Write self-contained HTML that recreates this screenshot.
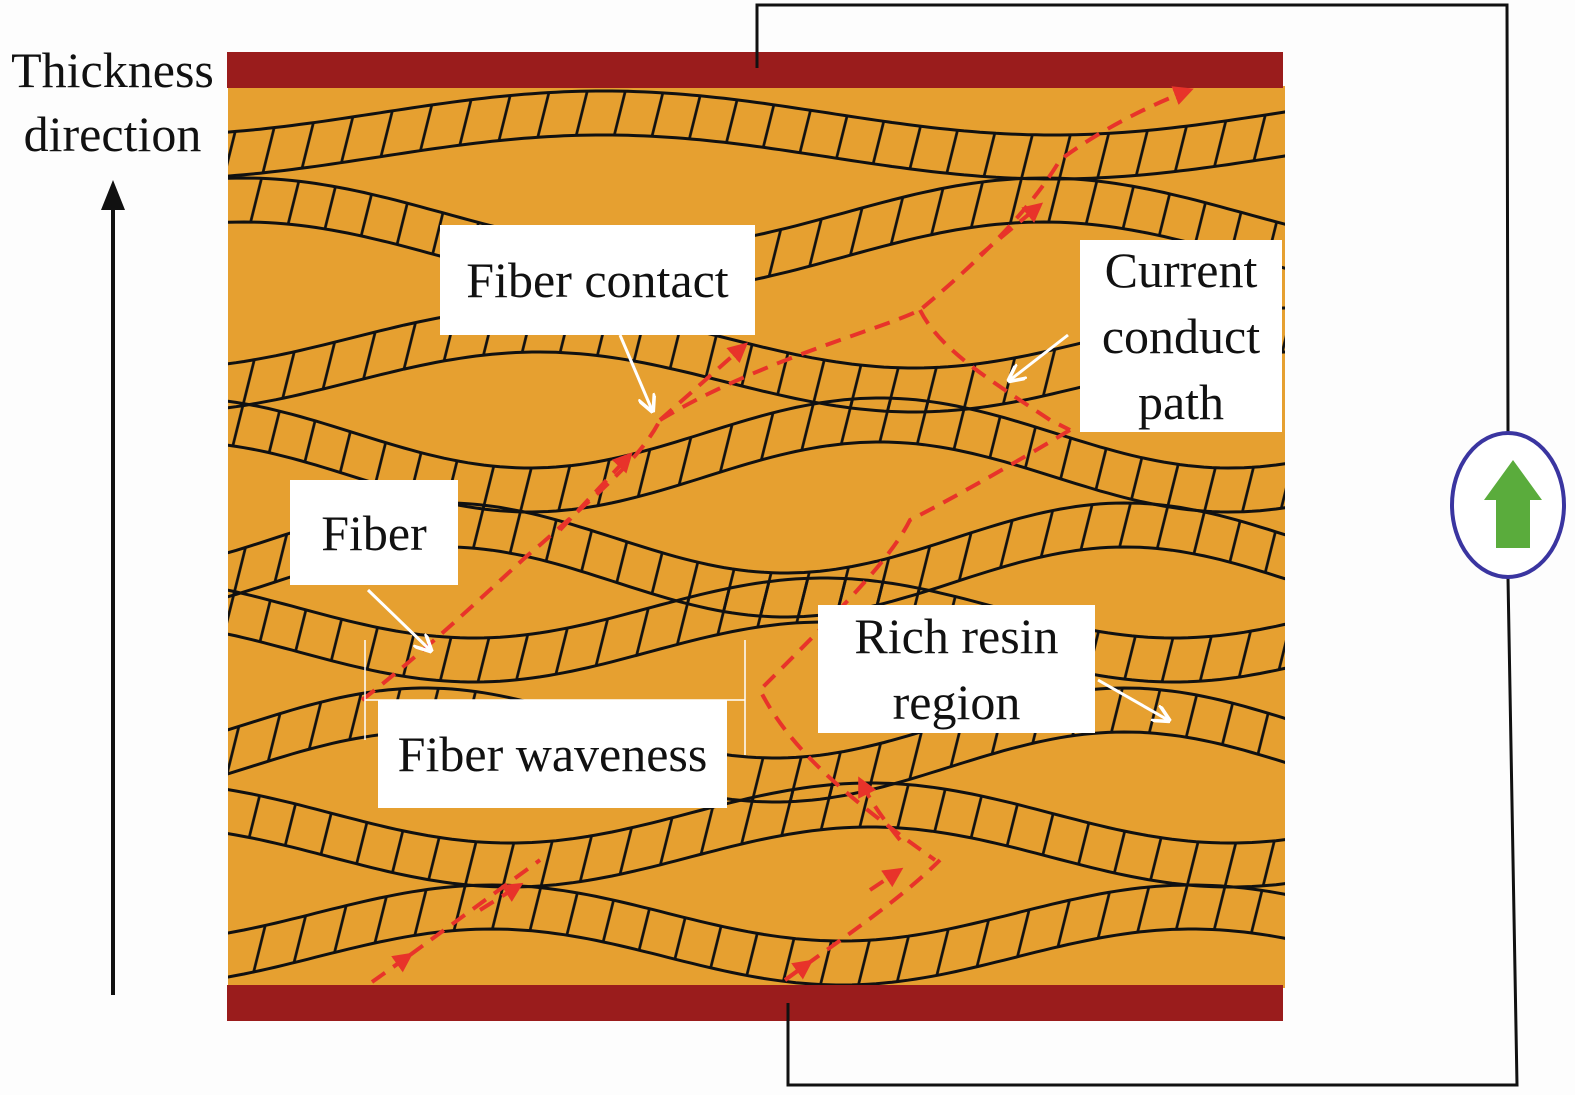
<!DOCTYPE html>
<html><head><meta charset="utf-8"><style>
body{margin:0;background:#fdfdfd;width:1575px;height:1095px;overflow:hidden;font-family:"Liberation Serif",serif}
svg{position:absolute;left:0;top:0}
.lb{position:absolute;background:#fff;font-size:50px;color:#111;text-align:center;line-height:66px;display:flex;align-items:center;justify-content:center}
</style></head><body>
<svg id="s" width="1575" height="1095" viewBox="0 0 1575 1095">
<defs>
<pattern id="h" width="38" height="60" patternUnits="userSpaceOnUse" patternTransform="skewX(-14)">
<rect width="38" height="60" fill="none"/><line x1="2" y1="0" x2="2" y2="60" stroke="#111" stroke-width="2.8"/>
</pattern>
<marker id="ar" markerWidth="5" markerHeight="5" refX="4" refY="2.5" orient="auto"><path d="M0,0 L5,2.5 L0,5 Z" fill="#e8332a"/></marker>
<marker id="wa" markerWidth="6" markerHeight="6" refX="5" refY="3" orient="auto"><path d="M0,0 L6,3 L0,6" fill="none" stroke="#fff" stroke-width="1.2"/></marker>
<clipPath id="c"><rect x="228" y="86" width="1057" height="902"/></clipPath>
</defs>
<rect x="228" y="86" width="1057" height="902" fill="#e6a030"/>
<g id="bands" clip-path="url(#c)"></g>
<rect x="227" y="52" width="1056" height="36" fill="#9a1c1c"/>
<rect x="227" y="985" width="1056" height="36" fill="#9a1c1c"/>
<polyline points="757,68 757,5 1507,5 1508,433" fill="none" stroke="#111" stroke-width="3"/>
<polyline points="1508,578 1517,1085 788,1085 788,1003" fill="none" stroke="#111" stroke-width="3"/>
<ellipse cx="1508" cy="505" rx="56" ry="72" fill="#fff" stroke="#3a35a0" stroke-width="4"/>
<path d="M1496,548 L1496,500 L1484,500 L1513,460 L1542,500 L1530,500 L1530,548 Z" fill="#5aac3c"/>
<line x1="113" y1="995" x2="113" y2="195" stroke="#111" stroke-width="4"/>
<path d="M101,210 L113,180 L125,210 Z" fill="#111"/>
<g fill="none" stroke="#e8332a" stroke-width="4" stroke-dasharray="16,10">
<path d="M372,982 L410,955" marker-end="url(#ar)"/>
<path d="M410,955 L540,860"/>
<path d="M480,910 L520,885" marker-end="url(#ar)"/>
<path d="M362,700 C440,640 520,560 540,545 C590,500 640,460 660,420"/>
<path d="M660,420 L745,345" marker-end="url(#ar)"/>
<path d="M560,530 L630,455" marker-end="url(#ar)"/>
<path d="M660,420 C760,360 880,330 920,310 C980,260 1030,210 1060,160 C1100,130 1150,105 1190,90" marker-end="url(#ar)"/>
<path d="M980,255 L1040,205" marker-end="url(#ar)"/>
<path d="M920,310 C940,350 990,380 1050,420 L1070,430"/>
<path d="M1070,430 C1020,460 950,500 910,520 C890,560 840,610 760,690 C790,750 850,800 935,860" />
<path d="M785,980 C840,940 900,900 940,860"/>
<path d="M785,980 L810,962" marker-end="url(#ar)"/>
<path d="M870,890 L900,870" marker-end="url(#ar)"/>
<path d="M900,840 C880,815 870,800 860,780" marker-end="url(#ar)"/>
</g>
<g stroke="#fff" stroke-width="3" fill="none">
<line x1="620" y1="335" x2="652" y2="410" marker-end="url(#wa)"/>
<line x1="1068" y1="335" x2="1010" y2="380" marker-end="url(#wa)"/>
<line x1="368" y1="590" x2="430" y2="650" marker-end="url(#wa)"/>
<line x1="1098" y1="680" x2="1168" y2="720" marker-end="url(#wa)"/>
<line x1="365" y1="640" x2="365" y2="740" stroke-width="1.5"/>
<line x1="745" y1="640" x2="745" y2="755" stroke-width="1.5"/>
<line x1="365" y1="700" x2="745" y2="700" stroke-width="1.5"/>
</g>
</svg>
<div style="position:absolute;left:0;top:38px;width:225px;font-size:50px;text-align:center;line-height:64px;color:#111">Thickness<br>direction</div>
<div class="lb" style="left:440px;top:225px;width:315px;height:110px">Fiber contact</div>
<div class="lb" style="left:1080px;top:240px;width:202px;height:192px">Current<br>conduct<br>path</div>
<div class="lb" style="left:290px;top:480px;width:168px;height:105px">Fiber</div>
<div class="lb" style="left:818px;top:605px;width:277px;height:128px">Rich resin<br>region</div>
<div class="lb" style="left:378px;top:700px;width:349px;height:108px">Fiber waveness</div>
<script>
var g=document.getElementById('bands'),NS='http://www.w3.org/2000/svg';
var bands=[[135,22,900,0.5],[235,35,800,2.8],[360,30,750,0.2],[455,35,700,3.1],[560,35,680,0.6],[630,30,700,3.6],[745,35,700,0.9],[835,30,720,3.4],[935,28,700,0.3]];
var th=44;
bands.forEach(function(b){
 function y(x,o){return b[0]+o+b[1]*Math.sin(2*Math.PI*x/b[2]+b[3]);}
 var top='',bot='';
 for(var x=220;x<=1295;x+=8){top+=(x==220?'M':'L')+x+','+y(x,-th/2).toFixed(1);}
 for(var x=1295;x>=220;x-=8){bot+='L'+x+','+y(x,th/2).toFixed(1);}
 var p=document.createElementNS(NS,'path');p.setAttribute('d',top+bot+'Z');p.setAttribute('fill','url(#h)');g.appendChild(p);
 [-th/2,th/2].forEach(function(o){var d='';for(var x=220;x<=1295;x+=8)d+=(x==220?'M':'L')+x+','+y(x,o).toFixed(1);
 var l=document.createElementNS(NS,'path');l.setAttribute('d',d);l.setAttribute('fill','none');l.setAttribute('stroke','#111');l.setAttribute('stroke-width','3');g.appendChild(l);});
});
</script>
</body></html>
